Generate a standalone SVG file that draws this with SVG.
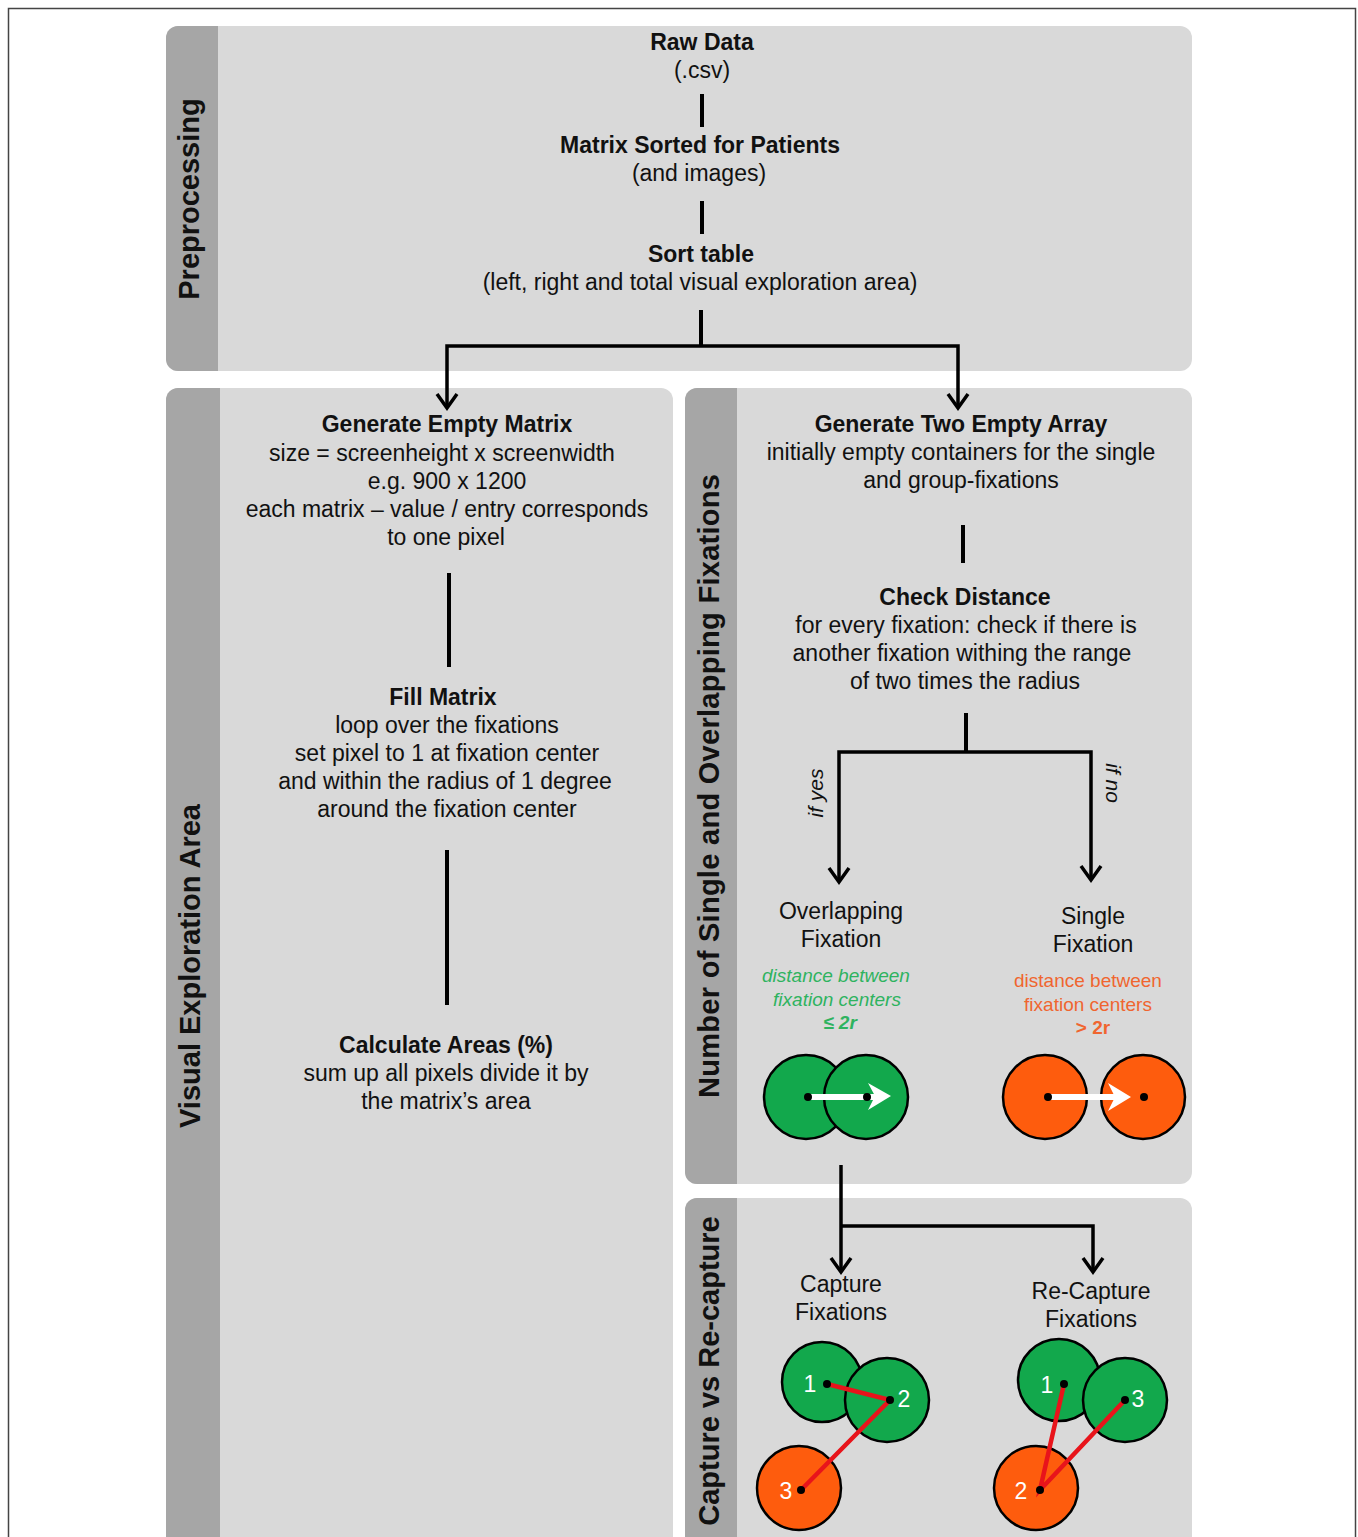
<svg xmlns="http://www.w3.org/2000/svg" width="1358" height="1537" viewBox="0 0 1358 1537">
<defs>
<style>
.t{font-family:"Liberation Sans",Arial,sans-serif;font-size:23px;fill:#111;text-anchor:middle}
.b{font-weight:bold}
.side{font-family:"Liberation Sans",Arial,sans-serif;font-size:29px;font-weight:bold;fill:#111;text-anchor:middle}
.g{font-family:"Liberation Sans",Arial,sans-serif;font-size:19px;font-style:italic;fill:#2eb35f;text-anchor:middle}
.o{font-family:"Liberation Sans",Arial,sans-serif;font-size:19px;fill:#f0652f;text-anchor:middle}
.it{font-family:"Liberation Sans",Arial,sans-serif;font-size:21px;font-style:italic;fill:#111;text-anchor:middle}
.num{font-family:"Liberation Sans",Arial,sans-serif;font-size:23px;fill:#fff;text-anchor:middle}
.panel{fill:#d9d9d9}
.bar{fill:#a6a6a6}
.conn{fill:none;stroke:#000;stroke-width:3.5}
.sep{fill:none;stroke:#000;stroke-width:4}
.gc{fill:#12a84c;stroke:#000;stroke-width:2.5}
.oc{fill:#fe5c0d;stroke:#000;stroke-width:2.5}
.red{stroke:#e8141b;stroke-width:4.5;fill:none}
.dot{fill:#000}
.wl{stroke:#fff;stroke-width:6;fill:none}
.wh{fill:#fff}
</style>
<marker id="arr" markerUnits="userSpaceOnUse" markerWidth="30" markerHeight="30" viewBox="-15 -15 30 30" refX="0" refY="0" orient="auto" overflow="visible">
<path d="M-14,-10 L0,0 L-14,10" fill="none" stroke="#000" stroke-width="3.5"/>
</marker>
</defs>
<rect x="0" y="0" width="1358" height="1537" fill="#fff"/>
<rect x="8.5" y="8.5" width="1347" height="1560" fill="none" stroke="#444" stroke-width="1.5"/>

<g id="panel-preprocessing">
<rect class="panel" x="166" y="26" width="1026" height="345" rx="12"/>
<path class="bar" d="M218,26 H178 A12,12 0 0 0 166,38 V359 A12,12 0 0 0 178,371 H218 Z"/>
<text class="side" transform="translate(199,199) rotate(-90)">Preprocessing</text>
</g>
<g id="panel-visual">
<rect class="panel" x="166" y="388" width="507" height="1200" rx="12"/>
<path class="bar" d="M220,388 H178 A12,12 0 0 0 166,400 V1590 H220 Z"/>
<text class="side" transform="translate(200,966) rotate(-90)">Visual Exploration Area</text>
</g>
<g id="panel-number">
<rect class="panel" x="685" y="388" width="507" height="796" rx="12"/>
<path class="bar" d="M737,388 H697 A12,12 0 0 0 685,400 V1172 A12,12 0 0 0 697,1184 H737 Z"/>
<text class="side" transform="translate(719,786) rotate(-90)" textLength="624" lengthAdjust="spacing">Number of Single and Overlapping Fixations</text>
</g>
<g id="panel-capture">
<rect class="panel" x="685" y="1198" width="507" height="400" rx="12"/>
<path class="bar" d="M737,1198 H697 A12,12 0 0 0 685,1210 V1600 H737 Z"/>
<text class="side" transform="translate(719,1371) rotate(-90)">Capture vs Re-capture</text>
</g>

<g id="connectors">
<path class="sep" d="M702,94 V127"/>
<path class="sep" d="M702,201 V234"/>
<path class="sep" d="M701,310 V346"/>
<path class="conn" d="M701,346 H447 V408" marker-end="url(#arr)"/>
<path class="conn" d="M701,346 H958 V408" marker-end="url(#arr)"/>
<path class="sep" d="M449,573 V667"/>
<path class="sep" d="M447,850 V1005"/>
<path class="sep" d="M963,525 V563"/>
<path class="sep" d="M966,713 V752"/>
<path class="conn" d="M966,752 H839 V882" marker-end="url(#arr)"/>
<path class="conn" d="M966,752 H1091 V880" marker-end="url(#arr)"/>
<text class="it" transform="translate(823,793) rotate(-90)">if yes</text>
<text class="it" transform="translate(1106,783) rotate(90)">if no</text>
<path class="conn" d="M841,1165 V1272" marker-end="url(#arr)"/>
<path class="conn" d="M841,1226 H1093 V1272" marker-end="url(#arr)"/>
</g>

<g id="node-raw-data">
<text class="t b" x="702" y="50">Raw Data</text>
<text class="t" x="702" y="78">(.csv)</text>
</g>
<g id="node-matrix-sorted">
<text class="t b" x="700" y="153">Matrix Sorted for Patients</text>
<text class="t" x="699" y="181">(and images)</text>
</g>
<g id="node-sort-table">
<text class="t b" x="701" y="262">Sort table</text>
<text class="t" x="700" y="290">(left, right and total visual exploration area)</text>
</g>

<g id="node-generate-matrix">
<text class="t b" x="447" y="432">Generate Empty Matrix</text>
<text class="t" x="442" y="461">size = screenheight x screenwidth</text>
<text class="t" x="447" y="489">e.g. 900 x 1200</text>
<text class="t" x="447" y="517">each matrix – value / entry corresponds</text>
<text class="t" x="446" y="545">to one pixel</text>
</g>
<g id="node-fill-matrix">
<text class="t b" x="443" y="705">Fill Matrix</text>
<text class="t" x="447" y="733">loop over the fixations</text>
<text class="t" x="447" y="761">set pixel to 1 at fixation center</text>
<text class="t" x="445" y="789">and within the radius of 1 degree</text>
<text class="t" x="447" y="817">around the fixation center</text>
</g>
<g id="node-calculate-areas">
<text class="t b" x="446" y="1053">Calculate Areas (%)</text>
<text class="t" x="446" y="1081">sum up all pixels divide it by</text>
<text class="t" x="446" y="1109">the matrix’s area</text>
</g>

<g id="node-generate-arrays">
<text class="t b" x="961" y="432">Generate Two Empty Array</text>
<text class="t" x="961" y="460">initially empty containers for the single</text>
<text class="t" x="961" y="488">and group-fixations</text>
</g>
<g id="node-check-distance">
<text class="t b" x="965" y="605">Check Distance</text>
<text class="t" x="966" y="633">for every fixation: check if there is</text>
<text class="t" x="962" y="661">another fixation withing the range</text>
<text class="t" x="965" y="689">of two times the radius</text>
</g>

<g id="node-overlapping">
<text class="t" x="841" y="919">Overlapping</text>
<text class="t" x="841" y="947">Fixation</text>
<text class="g" x="836" y="982">distance between</text>
<text class="g" x="837" y="1006">fixation centers</text>
<text class="g b" x="840" y="1029">≤ 2r</text>
<circle class="gc" cx="806" cy="1097" r="42"/>
<circle class="gc" cx="866" cy="1097" r="42"/>
<path class="wl" d="M808,1097 H876"/>
<path class="wh" d="M868,1083 L891,1096 L868,1110 L875,1096 Z"/>
<circle class="dot" cx="808" cy="1097" r="4"/>
<circle class="dot" cx="867" cy="1097" r="4"/>
</g>
<g id="node-single">
<text class="t" x="1093" y="924">Single</text>
<text class="t" x="1093" y="952">Fixation</text>
<text class="o" x="1088" y="987">distance between</text>
<text class="o" x="1088" y="1011">fixation centers</text>
<text class="o b" x="1093" y="1034">&gt; 2r</text>
<circle class="oc" cx="1045" cy="1097" r="42"/>
<circle class="oc" cx="1143" cy="1097" r="42"/>
<path class="wl" d="M1048,1097 H1116"/>
<path class="wh" d="M1108,1083 L1131,1097 L1108,1111 L1115,1097 Z"/>
<circle class="dot" cx="1048" cy="1097" r="4"/>
<circle class="dot" cx="1144" cy="1097" r="4"/>
</g>

<g id="node-capture">
<text class="t" x="841" y="1292">Capture</text>
<text class="t" x="841" y="1320">Fixations</text>
<circle class="gc" cx="822" cy="1382" r="40"/>
<circle class="gc" cx="887" cy="1400" r="42"/>
<circle class="oc" cx="799" cy="1488" r="42"/>
<path class="red" d="M827,1384 L890,1400 L801,1490"/>
<circle class="dot" cx="827" cy="1384" r="4"/>
<circle class="dot" cx="890" cy="1400" r="4"/>
<circle class="dot" cx="801" cy="1490" r="4"/>
<text class="num" x="810" y="1392">1</text>
<text class="num" x="904" y="1407">2</text>
<text class="num" x="786" y="1499">3</text>
</g>
<g id="node-recapture">
<text class="t" x="1091" y="1299">Re-Capture</text>
<text class="t" x="1091" y="1327">Fixations</text>
<circle class="gc" cx="1059" cy="1380" r="41"/>
<circle class="gc" cx="1125" cy="1400" r="42"/>
<circle class="oc" cx="1036" cy="1488" r="42"/>
<path class="red" d="M1064,1384 L1040,1490 L1125,1400"/>
<circle class="dot" cx="1064" cy="1384" r="4"/>
<circle class="dot" cx="1125" cy="1400" r="4"/>
<circle class="dot" cx="1040" cy="1490" r="4"/>
<text class="num" x="1047" y="1393">1</text>
<text class="num" x="1138" y="1407">3</text>
<text class="num" x="1021" y="1499">2</text>
</g>
</svg>
